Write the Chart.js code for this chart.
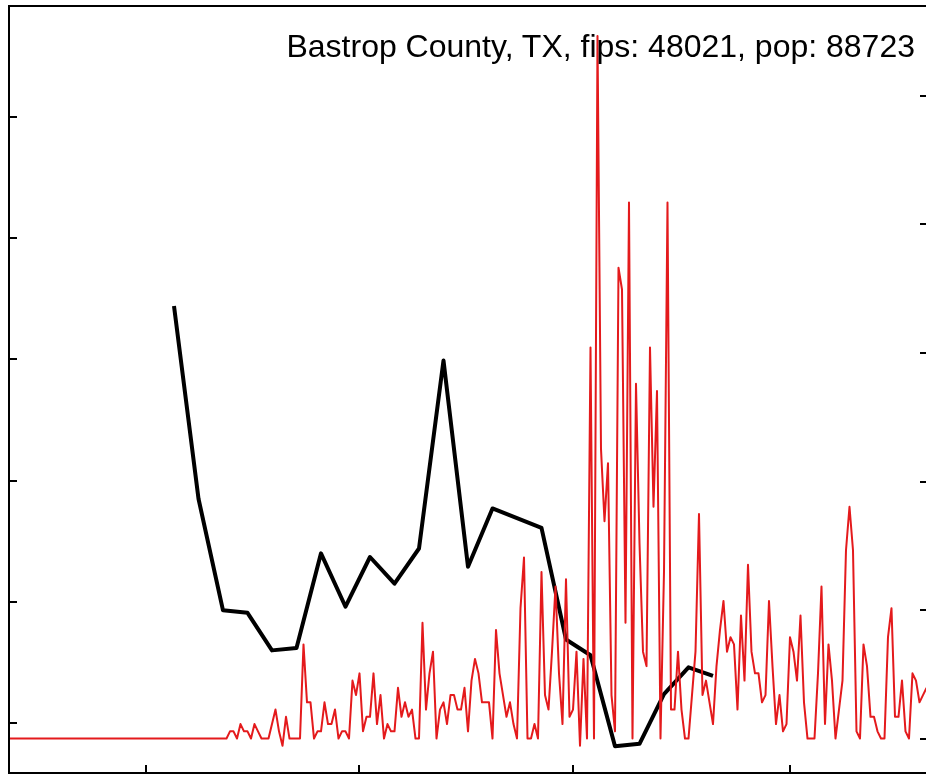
<!DOCTYPE html>
<html>
<head>
<meta charset="utf-8">
<script src="https://cdn.jsdelivr.net/npm/chart.js@4/dist/chart.umd.min.js"></script>
<style>
  html, body { margin: 0; padding: 0; background: #fff; overflow: hidden; }
  #wrap { position: relative; width: 926px; height: 776px; }
  #title {
    position: absolute; right: 11px; top: 30px;
    font-family: "Liberation Sans", Arial, sans-serif;
    font-size: 32px; line-height: 1; color: #000; white-space: nowrap;
  }
</style>
</head>
<body>
<div id="wrap">
  <canvas id="myChart" width="926" height="776"></canvas>
  <div id="title">Bastrop County, TX, fips: 48021, pop: 88723</div>
</div>
<script>
"use strict";
// day 0 = 2020-01-22
const population = 88723;
// daily new cases, one value per day from day 0
const dailyCases = [
  0,0,0,0,0,0,0,0,0,0, 0,0,0,0,0,0,0,0,0,0,
  0,0,0,0,0,0,0,0,0,0, 0,0,0,0,0,0,0,0,0,0,
  0,0,0,0,0,0,0,0,0,0, 0,0,0,0,0,0,0,0,0,0,
  0,0,0,1,1,0,2,1,1,0, 2,1,0,0,0,2,4,1,-1,3,
  0,0,0,0,13,5,5,0,1,1, 5,2,2,4,0,1,1,0,8,6,
  9,1,3,3,9,2,6,0,2,1, 1,7,3,5,3,4,0,0,16,4,
  9,12,0,4,5,2,6,6,4,4, 7,1,8,11,9,5,5,5,0,15,
  9,6,3,5,2,0,18,25,0,0, 2,0,23,6,4,12,21,9,2,22,
  3,4,12,-1,11,0,54,0,97,40, 30,38,6,1,65,62,16,74,0,49,
  27,12,10,54,32,48,0,23,74,4, 4,12,4,0,0,6,12,31,6,8,
  5,2,10,15,19,12,14,13,4,17, 8,24,12,9,9,5,6,19,10,2,
  6,1,2,14,12,8,17,5,0,0, 0,9,21,2,13,8,0,4,8,26,
  32,26,1,0,13,10,3,3,1,0, 0,14,18,3,3,8,1,0,9,8,
  5,6,7
];
// weekly series (left axis)
const weekDays = [47, 54, 61, 68, 75, 82, 89, 96, 103, 110, 117, 124, 131, 138, 145, 152, 159, 166, 173, 180, 187, 194, 201];
const weekValues = [3.44, 1.85, 0.93, 0.91, 0.60, 0.62, 1.40, 0.96, 1.37, 1.15, 1.44, 2.99, 1.29, 1.77, 1.69, 1.61, 0.69, 0.56, -0.19, -0.17, 0.24, 0.46, 0.39];
// tick positions (no labels shown)
const xTicks = [39, 100, 161, 223];       // Mar 1, May 1, Jul 1, Sep 1
const leftTicks = [0, 1, 2, 3, 4, 5];
const rightTicks = [0, 20, 40, 60, 80, 100];

let redPoints = [];
for (let i = 0; i < dailyCases.length; i++) {
  redPoints.push({ x: i, y: dailyCases[i] / population * 100000 });
}
let blackPoints = [];
for (let i = 0; i < weekDays.length; i++) {
  blackPoints.push({ x: weekDays[i], y: weekValues[i] });
}

// frame and inward tick marks, placed with the chart's own scales
const frameTicks = {
  id: 'frameTicks',
  afterDraw(chart) {
    const ctx = chart.ctx;
    const a = chart.chartArea;
    const sx = chart.scales.x, sl = chart.scales.yLeft, sr = chart.scales.yRight;
    ctx.save();
    ctx.strokeStyle = '#000';
    ctx.lineWidth = 2;
    ctx.lineCap = 'butt';
    ctx.beginPath();
    ctx.moveTo(a.right + 2, a.top);
    ctx.lineTo(a.left, a.top);
    ctx.lineTo(a.left, a.bottom);
    ctx.lineTo(a.right + 2, a.bottom);
    ctx.stroke();
    ctx.beginPath();
    for (let i = 0; i < xTicks.length; i++) {
      let px = Math.round(sx.getPixelForValue(xTicks[i]));
      ctx.moveTo(px, a.bottom);
      ctx.lineTo(px, a.bottom - 8);
    }
    for (let i = 0; i < leftTicks.length; i++) {
      let py = Math.round(sl.getPixelForValue(leftTicks[i]));
      ctx.moveTo(a.left, py);
      ctx.lineTo(a.left + 8, py);
    }
    for (let i = 0; i < rightTicks.length; i++) {
      let py = Math.round(sr.getPixelForValue(rightTicks[i]));
      ctx.moveTo(a.right, py);
      ctx.lineTo(a.right - 6, py);
    }
    ctx.stroke();
    ctx.restore();
  }
};

const config = {
  type: 'line',
  data: {
    datasets: [{
      label: 'daily',
      data: redPoints,
      yAxisID: 'yRight',
      borderColor: '#e41a1c',
      borderWidth: 2,
      pointRadius: 0,
      tension: 0,
      borderJoinStyle: 'round',
      fill: false
    },
    {
      label: 'weekly',
      data: blackPoints,
      yAxisID: 'yLeft',
      borderColor: '#000000',
      borderWidth: 4,
      pointRadius: 0,
      tension: 0,
      borderJoinStyle: 'round',
      fill: false
    }]
  },
  options: {
    responsive: false,
    animation: false,
    devicePixelRatio: 1,
    layout: { padding: { left: 9, top: 6, right: 0, bottom: 3 } },
    plugins: { legend: { display: false }, tooltip: { enabled: false } },
    scales: {
      x: { type: 'linear', display: false, min: -0.143, max: 261.86 },
      yLeft: { type: 'linear', display: false, position: 'left', min: -0.411, max: 5.913 },
      yRight: { type: 'linear', display: false, position: 'right', min: -5.36, max: 114.0 }
    }
  },
  plugins: [frameTicks]
};
let canvasChart = document.getElementById('myChart');
const myChart = new Chart(canvasChart, config);
</script>
</body>
</html>
